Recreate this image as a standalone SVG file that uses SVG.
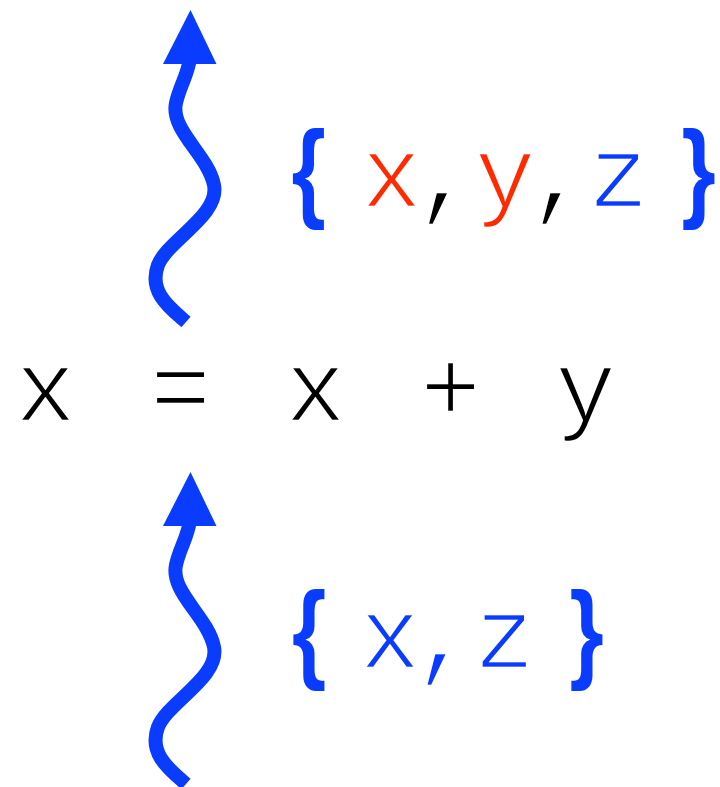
<svg xmlns="http://www.w3.org/2000/svg" width="720" height="787" viewBox="0 0 720 787">
<style>
.m{font-family:"Liberation Mono","Courier New",monospace;font-size:102px;stroke:#ffffff;stroke-width:2.6px;paint-order:normal}
.b{font-family:"Liberation Sans",Arial,sans-serif;font-weight:bold;font-size:110px;text-anchor:middle;fill:#0a3cff}
.blue{fill:#0a3cff}
.red{fill:#ff2a00}
.k{fill:#000000}
.shaft{fill:none;stroke:#0a3cff;stroke-width:14}
.head{fill:#0a3cff}
</style>
<defs>
<g id="squig">
<path class="shaft" d="M 186,322 C 170,308 148,292 158,265 C 168,240 220,215 214,185 C 208,155 170,130 176,103 C 180,85 188,75 190,58"/>
<polygon class="head" points="190.5,10 216.5,64 163,64"/>
</g>
</defs>
<g id="connectors">
<use id="arrow-top" href="#squig"/>
<use id="arrow-bottom" href="#squig" transform="translate(0,462)"/>
</g>
<g id="equation">
<text class="m k" x="14.9" y="421" letter-spacing="6.3" xml:space="preserve">x = x + y</text>
</g>
<g id="set-top">
<text class="b" transform="translate(308.5,207) scale(0.8,1)" x="0" y="0">{</text>
<text class="m k" x="360.9" y="207" letter-spacing="-7.7" word-spacing="-47" xml:space="preserve"><tspan class="red">x</tspan>, <tspan class="red">y</tspan>, <tspan class="blue">z</tspan></text>
<text class="b" transform="translate(698.5,207) scale(0.8,1)" x="0" y="0">}</text>
</g>
<g id="set-bottom">
<text class="b" transform="translate(309,668) scale(0.8,1)" x="0" y="0">{</text>
<text class="m blue" x="359.4" y="668" letter-spacing="-7.7" word-spacing="-46" xml:space="preserve">x, z</text>
<text class="b" transform="translate(586.5,668) scale(0.8,1)" x="0" y="0">}</text>
</g>
</svg>
